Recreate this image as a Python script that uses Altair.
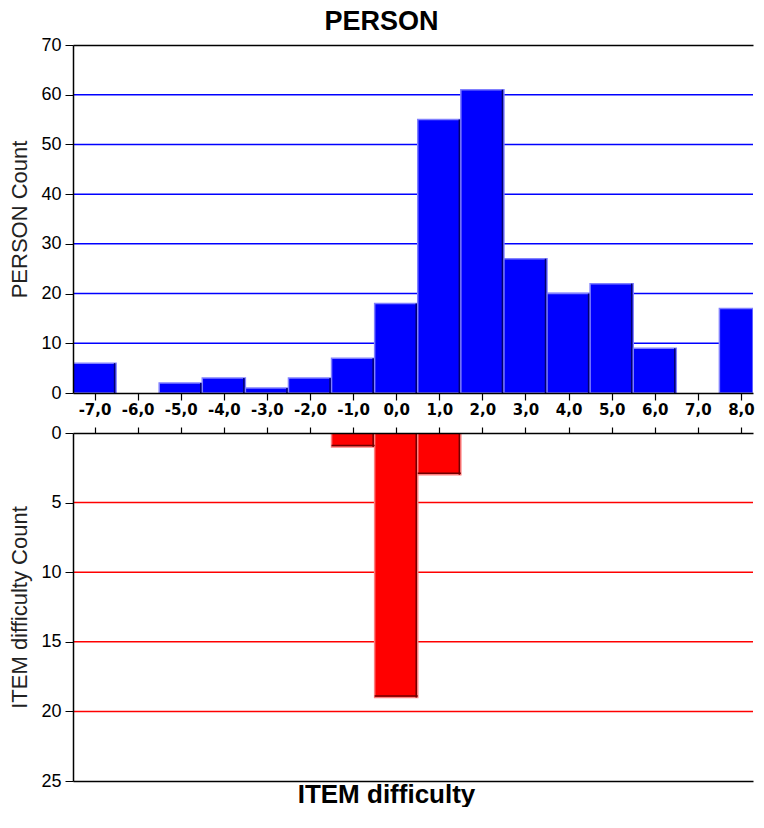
import altair as alt
import pandas as pd

# ---- data ----
person_scores = [-7, -6, -5, -4, -3, -2, -1, 0, 1, 2, 3, 4, 5, 6, 7, 8]
person_counts = [6, 0, 2, 3, 1, 3, 7, 18, 55, 61, 27, 20, 22, 9, 0, 17]
item_scores = [-1, 0, 1]
item_counts = [1, 19, 3]
tick_values = list(range(-7, 9))
person_ticks = [0, 10, 20, 30, 40, 50, 60, 70]
person_grid = [10, 20, 30, 40, 50, 60]
item_ticks = [0, 5, 10, 15, 20, 25]
item_grid = [5, 10, 15, 20]
x_domain = [-7.5, 8.28]

person = pd.DataFrame({"score": person_scores, "count": person_counts})
item = pd.DataFrame({"score": item_scores, "count": item_counts})
pgrid = pd.DataFrame({"v": person_grid})
igrid = pd.DataFrame({"v": item_grid})

FONT = "Liberation Sans"
W = 680
x_scale = alt.Scale(domain=x_domain, nice=False, zero=False, clamp=True)
label_expr = "(datum.value < 0 ? '-' : '') + replace(format(abs(datum.value), '.1f'), '.', ',')"
inside = f"datum.score + 0.5 <= {x_domain[1]}"


def y_axis(values, title):
    return alt.Axis(
        values=values, grid=False, title=title, tickSize=8, tickColor="black",
        domainColor="black", domainWidth=1.5, labelFont=FONT, labelFontSize=18, labelColor="black",
        labelPadding=4, titleFont=FONT, titleFontSize=22, titleFontWeight="normal",
        titleColor="#222222", titlePadding=9, zindex=1)


# ---------------- top panel (PERSON) ----------------
ys_top = alt.Scale(domain=[0, 70], nice=False, zero=True)
ya_top = y_axis(person_ticks, "PERSON Count")

top_grid = alt.Chart(pgrid).mark_rule(color="#0000ff", strokeWidth=1.5).encode(
    y=alt.Y("v:Q", scale=ys_top, axis=ya_top)
)

top_base = alt.Chart(person).transform_filter("datum.count > 0").transform_calculate(
    x0="datum.score - 0.5", x1="datum.score + 0.5"
)

top_bars = top_base.mark_bar(color="#0000ff", stroke="#8080ff", strokeWidth=1.5, clip=True).encode(
    x=alt.X("x0:Q", scale=x_scale, axis=alt.Axis(
        orient="bottom", values=tick_values, labelExpr=label_expr, grid=False, title=None,
        tickSize=7, tickColor="black", domainColor="black", domainWidth=1.5, tickWidth=1.2,
        labelFont="DejaVu Sans", labelFontWeight="bold", labelFontSize=15, labelColor="black",
        labelPadding=2, labelFlush=False, labelOverlap=False, zindex=1)),
    x2="x1:Q",
    y=alt.Y("count:Q", scale=ys_top, axis=ya_top),
    y2=alt.datum(0),
)

top_edge = top_base.transform_filter(inside).mark_rule(
    color="#000070", strokeWidth=1.5, xOffset=-1.5, clip=True
).encode(
    x=alt.X("x1:Q", scale=x_scale, axis=None),
    y=alt.Y("count:Q", scale=ys_top, axis=ya_top),
    y2=alt.datum(0),
)

top_border = top_base.mark_bar(opacity=0, clip=True).encode(
    x=alt.X("x0:Q", scale=x_scale, axis=alt.Axis(
        orient="top", labels=False, ticks=False, grid=False, title=None,
        domainColor="black", domainWidth=1.5, zindex=1)),
    x2="x1:Q",
    y=alt.Y("count:Q", scale=ys_top, axis=ya_top),
    y2=alt.datum(0),
)

top = alt.layer(top_grid, top_bars, top_edge, top_border).resolve_axis(x="independent").properties(
    width=W, height=348
)

# ---------------- bottom panel (ITEM) ----------------
ys_bot = alt.Scale(domain=[0, 25], nice=False, zero=True, reverse=True)
ya_bot = y_axis(item_ticks, "ITEM difficulty Count")

bot_grid = alt.Chart(igrid).mark_rule(color="#ff0000", strokeWidth=1.5).encode(
    y=alt.Y("v:Q", scale=ys_bot, axis=ya_bot)
)

bot_base = alt.Chart(item).transform_calculate(
    x0="datum.score - 0.5", x1="datum.score + 0.5"
)

bot_bars = bot_base.mark_bar(color="#ff0000", stroke="#ff8080", strokeWidth=1.5, clip=True).encode(
    x=alt.X("x0:Q", scale=x_scale, axis=alt.Axis(
        orient="top", values=tick_values, labels=False, grid=False, title=None,
        tickSize=6, tickColor="black", tickWidth=1.2, domainColor="black", domainWidth=1.5, zindex=1)),
    x2="x1:Q",
    y=alt.Y("count:Q", scale=ys_bot, axis=ya_bot),
    y2=alt.datum(0),
)

bot_edge_r = bot_base.mark_rule(color="#700000", strokeWidth=1.5, xOffset=-1.5, clip=True).encode(
    x=alt.X("x1:Q", scale=x_scale, axis=None),
    y=alt.Y("count:Q", scale=ys_bot, axis=ya_bot),
    y2=alt.datum(0),
)

bot_edge_b = bot_base.mark_rule(color="#700000", strokeWidth=1.5, yOffset=-1.5, clip=True).encode(
    x=alt.X("x0:Q", scale=x_scale, axis=None),
    x2="x1:Q",
    y=alt.Y("count:Q", scale=ys_bot, axis=ya_bot),
)

bot_border = bot_base.mark_bar(opacity=0, clip=True).encode(
    x=alt.X("x0:Q", scale=x_scale, axis=alt.Axis(
        orient="bottom", labels=False, ticks=False, grid=False, title="ITEM difficulty",
        titleFont=FONT, titleFontSize=26, titleFontWeight="bold", titleColor="black",
        titlePadding=0, titleX=313, domainColor="black", domainWidth=1.5, zindex=1)),
    x2="x1:Q",
    y=alt.Y("count:Q", scale=ys_bot, axis=ya_bot),
    y2=alt.datum(0),
)

bottom = alt.layer(bot_grid, bot_bars, bot_edge_r, bot_edge_b, bot_border).resolve_axis(
    x="independent"
).properties(width=W, height=348)

chart = alt.vconcat(
    top, bottom, spacing=40, bounds="flush",
    title=alt.Title("PERSON", font=FONT, fontSize=27, fontWeight="bold", color="black",
                    anchor="middle", offset=0),
).properties(
    padding={"left": 0, "top": 0, "right": 0, "bottom": 0},
    background="white",
).configure_view(stroke=None)

chart.save("out.html", embed_options={"renderer": "svg", "actions": False})
